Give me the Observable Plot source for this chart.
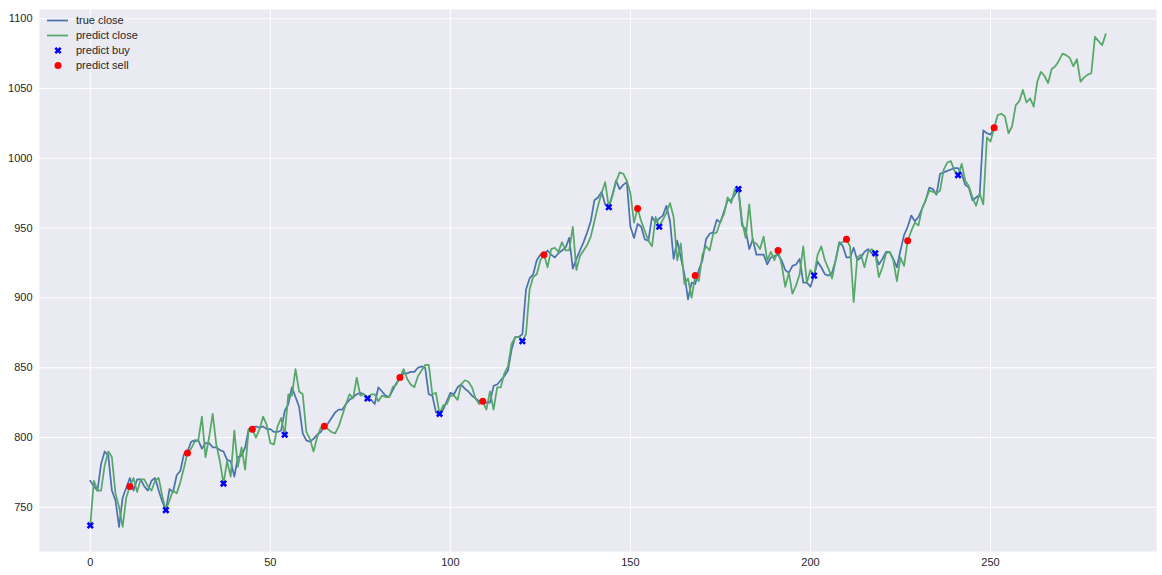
<!DOCTYPE html>
<html><head><meta charset="utf-8">
<script src="https://cdn.jsdelivr.net/npm/d3@7"></script>
<script src="https://cdn.jsdelivr.net/npm/@observablehq/plot@0.6"></script>
<style>
body{margin:0;background:#fff;font-family:"Liberation Sans",Arial,sans-serif;}
#wrap{position:relative;width:1162px;height:575px;}
#legend{position:absolute;left:0;top:0;}
</style></head><body><div id="wrap"><div id="chart"></div><svg id="legend" width="200" height="80"></svg></div>
<script>
const trueClose = [
769,765,762,781,790,787,762,755,736,757,
764,771,762,770,770,765,762,769,771,762,
754,748,763,761,773,776,788,790,797,798,
798,792,796,796,793,793,791,790,784,783,
772,786,787,793,806,806,808,807,808,806,
806,804,804,805,819,824,836,829,822,803,
798,797,799,802,804,808,810,814,818,820,
820,824,827,829,831,832,831,828,827,824,
836,833,830,829,834,839,842,846,846,847,
847,850,851,850,831,830,818,817,820,826,
832,831,836,838,835,833,830,828,826,826,
825,825,837,838,841,844,848,863,872,872,
874,906,914,917,927,931,931,934,931,929,
932,934,936,943,921,928,934,940,947,955,
970,972,976,967,965,974,984,978,981,983,
951,943,953,951,942,941,958,954,957,959,
966,955,928,941,929,917,899,911,910,920,
927,942,946,947,956,954,962,970,970,974,
978,952,949,935,942,931,931,931,924,929,
930,931,927,920,918,923,924,928,911,911,
908,916,926,922,917,916,918,927,940,937,
929,929,936,927,929,933,935,932,931,924,
928,933,933,928,922,934,945,951,959,955,
958,964,970,979,978,974,989,990,991,992,
993,993,989,981,979,970,972,974,1020,1018,
1017,1022];

const predictClose = [
737,769,762,762,780,790,786,760,750,736,
757,765,771,761,770,770,765,762,769,771,
758,748,755,762,760,768,778,789,792,797,
798,815,786,800,817,795,783,767,783,772,
805,779,793,777,806,806,800,806,815,809,
796,795,808,814,802,831,830,849,833,831,
804,799,790,800,807,808,806,804,803,808,
816,824,831,828,843,830,831,828,831,831,
826,830,829,829,836,838,843,849,842,838,
836,844,848,852,852,831,832,817,823,824,
830,830,827,838,841,840,836,828,824,826,
820,833,820,836,836,846,851,867,872,872,
869,874,906,915,917,927,931,922,935,936,
933,940,934,934,951,920,930,934,938,944,
955,966,975,983,965,973,983,990,989,984,
975,954,964,955,948,941,937,958,951,956,
961,968,958,927,939,910,914,900,916,912,
931,937,934,946,947,955,960,972,968,978,
978,955,943,967,940,939,935,944,927,933,
927,934,924,908,918,903,909,917,937,911,
920,916,931,937,927,921,914,927,939,940,
942,937,897,929,931,922,933,935,932,915,
922,932,933,927,912,929,923,941,948,954,
952,964,970,977,976,975,977,992,997,998,
991,988,996,984,980,972,966,975,967,1015,
1012,1022,1031,1032,1030,1018,1023,1038,1041,1049,
1040,1043,1037,1055,1062,1059,1054,1064,1066,1070,
1075,1074,1072,1066,1071,1055,1058,1060,1061,1087,
1084,1081,1089];

const buyIdx = [0,21,37,54,77,97,120,144,158,180,201,218,241];
const sellIdx = [11,27,45,65,86,109,126,152,168,191,210,227,251];

const xTicks = [0,50,100,150,200,250];
const yTicks = [750,800,850,900,950,1000,1050,1100];
const seriesNames = ["true close","predict close","predict buy","predict sell"];
const colors = {trueLine:"#4C72B0", predLine:"#55A868", buy:"#0000FF", sell:"#FF0000"};

const trueData = trueClose.map((v,i)=>({x:i,y:v}));
const predData = predictClose.map((v,i)=>({x:i,y:v}));
const buyData = buyIdx.map(i=>({x:i,y:predictClose[i]}));
const sellData = sellIdx.map(i=>({x:i,y:predictClose[i]}));

const allY = trueClose.concat(predictClose);
const xMax = predictClose.length - 1;
const yMin = d3.min(allY), yMax = d3.max(allY);
const xPad = 0.05*xMax, yPad = 0.05*(yMax-yMin);

const filledX = {
  draw(ctx, size){
    const r = Math.sqrt(size/Math.PI);
    const e = r, w = r*0.34, c = Math.SQRT1_2;
    const pts = [[w,e],[w,w],[e,w],[e,-w],[w,-w],[w,-e],[-w,-e],[-w,-w],[-e,-w],[-e,w],[-w,w],[-w,e]];
    pts.forEach(([x,y],i)=>{const X=(x-y)*c, Y=(x+y)*c; if(i) ctx.lineTo(X,Y); else ctx.moveTo(X,Y);});
    ctx.closePath();
  }
};

const fmt = d3.format("d");
const chart = Plot.plot({
  width:1162, height:575,
  marginLeft:39, marginRight:6, marginTop:9, marginBottom:24,
  style:{fontFamily:"'Liberation Sans', Arial, sans-serif", fontSize:"11px", color:"#262626", background:"white"},
  x:{domain:[-xPad, xMax+xPad]},
  y:{domain:[yMin-yPad, yMax+yPad]},
  marks:[
    Plot.frame({fill:"#EAEAF2", stroke:null}),
    Plot.gridX(xTicks,{stroke:"white", strokeOpacity:1, strokeWidth:1}),
    Plot.gridY(yTicks,{stroke:"white", strokeOpacity:1, strokeWidth:1}),
    Plot.axisX(xTicks,{tickSize:0, tickPadding:7, label:null, fill:"#262626", tickFormat:fmt}),
    Plot.axisY(yTicks,{tickSize:0, tickPadding:7, label:null, fill:"#262626", tickFormat:fmt}),
    Plot.line(trueData,{x:"x", y:"y", stroke:colors.trueLine, strokeWidth:1.75}),
    Plot.line(predData,{x:"x", y:"y", stroke:colors.predLine, strokeWidth:1.75}),
    Plot.dot(buyData,{x:"x", y:"y", symbol:filledX, r:3.8, fill:colors.buy, stroke:"none"}),
    Plot.dot(sellData,{x:"x", y:"y", r:3.5, fill:colors.sell, stroke:"none"})
  ]
});
document.getElementById("chart").appendChild(chart);

// legend
const lg = d3.select("#legend");
const rowsY = [20.5, 35.5, 50.5, 65.5];
seriesNames.forEach((name,i)=>{
  const y = rowsY[i];
  if(i===0 || i===1){
    lg.append("line").attr("x1",47).attr("x2",68).attr("y1",y).attr("y2",y)
      .attr("stroke", i===0?colors.trueLine:colors.predLine).attr("stroke-width",1.75);
  } else if(i===2){
    const p = d3.path(); filledX.draw(p, Math.PI*3.8*3.8);
    lg.append("path").attr("d",p.toString()).attr("transform",`translate(58,${y})`).attr("fill",colors.buy);
  } else {
    lg.append("circle").attr("cx",58).attr("cy",y).attr("r",3.5).attr("fill",colors.sell);
  }
  lg.append("text").attr("x",76).attr("y",y).attr("dy","0.35em")
    .attr("font-family","'Liberation Sans', Arial, sans-serif").attr("font-size","11px")
    .attr("fill","#262626").text(name);
});
</script>
</body></html>
